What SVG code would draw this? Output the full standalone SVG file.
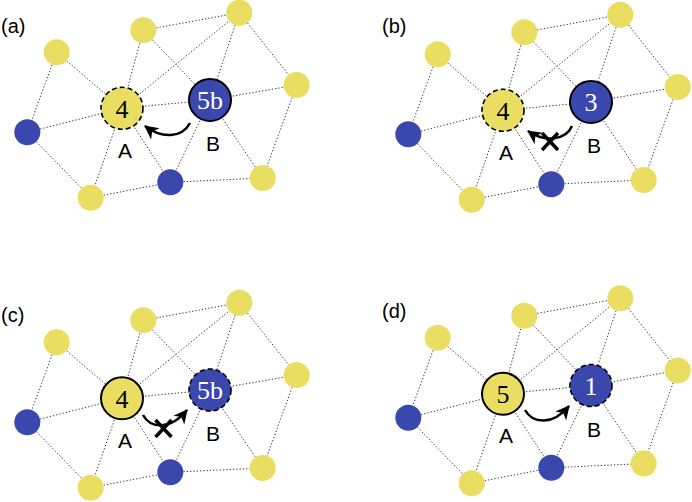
<svg xmlns="http://www.w3.org/2000/svg" width="692" height="502" viewBox="0 0 692 502">
<style>
.bg{fill:#fff}
.e{stroke:#333;stroke-width:1;stroke-dasharray:1.3 2;fill:none}
.y{fill:#E9DE62}
.b{fill:#3A47AD}
.solid{stroke:#000;stroke-width:2}
.dash{stroke:#000;stroke-width:1.6;stroke-dasharray:5 3}
.num{font-family:"Liberation Serif","Times New Roman",serif;font-size:26px;text-anchor:middle}
.lbl{font-family:"Liberation Sans",Arial,sans-serif;font-size:21px;text-anchor:middle;fill:#000}
.pl{font-family:"Liberation Sans",Arial,sans-serif;font-size:20px;fill:#000}
.arr{fill:none;stroke:#000;stroke-width:2.5;marker-end:url(#ah)}
.x{stroke:#000;stroke-width:3.5;stroke-linecap:butt}
</style>
<defs>
<marker id="ah" viewBox="-15 -8 17 16" markerWidth="17" markerHeight="16" refX="0" refY="0" orient="auto" markerUnits="userSpaceOnUse">
<path d="M1,0 L-13,-7 L-9,0 L-13,7 Z" fill="#000"/>
</marker>
<g id="edges">
<line class="e" x1="56.7" y1="52.3" x2="122" y2="108.3"/>
<line class="e" x1="56.7" y1="52.3" x2="27.3" y2="132.3"/>
<line class="e" x1="27.3" y1="132.3" x2="122" y2="108.3"/>
<line class="e" x1="27.3" y1="132.3" x2="90.7" y2="197.7"/>
<line class="e" x1="122" y1="108.3" x2="143.3" y2="30.3"/>
<line class="e" x1="122" y1="108.3" x2="239.3" y2="12.7"/>
<line class="e" x1="122" y1="108.3" x2="210" y2="100"/>
<line class="e" x1="122" y1="108.3" x2="170.3" y2="182.3"/>
<line class="e" x1="122" y1="108.3" x2="90.7" y2="197.7"/>
<line class="e" x1="143.3" y1="30.3" x2="239.3" y2="12.7"/>
<line class="e" x1="143.3" y1="30.3" x2="210" y2="100"/>
<line class="e" x1="239.3" y1="12.7" x2="210" y2="100"/>
<line class="e" x1="239.3" y1="12.7" x2="296.7" y2="85"/>
<line class="e" x1="210" y1="100" x2="296.7" y2="85"/>
<line class="e" x1="210" y1="100" x2="170.3" y2="182.3"/>
<line class="e" x1="210" y1="100" x2="262.7" y2="178"/>
<line class="e" x1="296.7" y1="85" x2="262.7" y2="178"/>
<line class="e" x1="90.7" y1="197.7" x2="170.3" y2="182.3"/>
<line class="e" x1="170.3" y1="182.3" x2="262.7" y2="178"/>
</g>
<g id="small">
<circle class="y" cx="56.7" cy="52.3" r="13"/>
<circle class="y" cx="143.3" cy="30.3" r="13"/>
<circle class="y" cx="239.3" cy="12.7" r="13"/>
<circle class="y" cx="296.7" cy="85" r="13"/>
<circle class="b" cx="27.3" cy="132.3" r="13"/>
<circle class="y" cx="90.7" cy="197.7" r="13"/>
<circle class="b" cx="170.3" cy="182.3" r="13"/>
<circle class="y" cx="262.7" cy="178" r="13"/>
</g>
</defs>
<rect class="bg" x="0" y="0" width="692" height="502"/>

<text class="pl" x="1" y="33">(a)</text>
<text class="pl" x="382" y="33">(b)</text>
<text class="pl" x="1" y="322">(c)</text>
<text class="pl" x="382" y="318">(d)</text>

<g id="panel-a">
<g id="connectors-a"><use href="#edges"/><path class="arr" d="M190,123 C182,138 162,139 145,126"/></g>
<g id="nodes-a"><use href="#small"/></g>
<g id="a-A"><circle class="y dash" cx="122" cy="108.3" r="21"/><text class="num" x="122" y="117.5" fill="#000">4</text><text class="lbl" x="125" y="157.5">A</text></g>
<g id="a-B"><circle class="b solid" cx="210" cy="100" r="21"/><text class="num" x="210" y="109.2" fill="#fff">5b</text><text class="lbl" x="213" y="151">B</text></g>
</g>

<g id="panel-b" transform="translate(381,2)">
<g id="connectors-b"><use href="#edges"/><path class="arr" d="M191,124 C185,138 164,141 147,129"/>
<line class="x" x1="161" y1="131" x2="177" y2="148"/><line class="x" x1="177" y1="131" x2="161" y2="148"/></g>
<g id="nodes-b"><use href="#small"/></g>
<g id="b-A"><circle class="y dash" cx="122" cy="108.3" r="21"/><text class="num" x="122" y="117.5" fill="#000">4</text><text class="lbl" x="125" y="157.5">A</text></g>
<g id="b-B"><circle class="b solid" cx="210" cy="100" r="21"/><text class="num" x="210" y="109.2" fill="#fff">3</text><text class="lbl" x="213" y="151">B</text></g>
</g>

<g id="panel-c" transform="translate(0,290)">
<g id="connectors-c"><use href="#edges"/><path class="arr" d="M143,125 C150,138 170,141 187,120"/>
<line class="x" x1="155.5" y1="130" x2="171.5" y2="147"/><line class="x" x1="171.5" y1="130" x2="155.5" y2="147"/></g>
<g id="nodes-c"><use href="#small"/></g>
<g id="c-A"><circle class="y solid" cx="122" cy="108.3" r="21"/><text class="num" x="122" y="117.5" fill="#000">4</text><text class="lbl" x="125" y="157.5">A</text></g>
<g id="c-B"><circle class="b dash" cx="210" cy="100" r="21"/><text class="num" x="210" y="109.2" fill="#fff">5b</text><text class="lbl" x="213" y="151">B</text></g>
</g>

<g id="panel-d" transform="translate(381,285.5)">
<g id="connectors-d"><use href="#edges"/><path class="arr" d="M144,124.5 C152,138.5 172,140 188,120.5"/></g>
<g id="nodes-d"><use href="#small"/></g>
<g id="d-A"><circle class="y solid" cx="122" cy="108.3" r="21"/><text class="num" x="122" y="117.5" fill="#000">5</text><text class="lbl" x="125" y="157.5">A</text></g>
<g id="d-B"><circle class="b dash" cx="210" cy="100" r="21"/><text class="num" x="210" y="109.2" fill="#fff">1</text><text class="lbl" x="213" y="151">B</text></g>
</g>
</svg>
